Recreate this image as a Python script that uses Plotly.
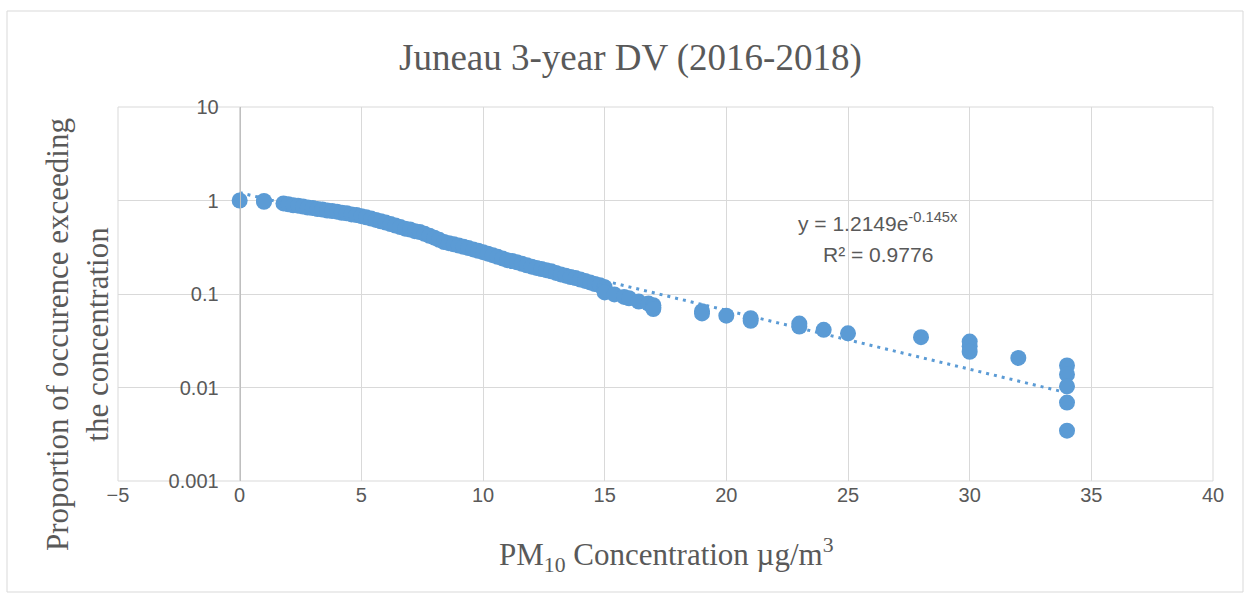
import math
import plotly.graph_objects as go

# ---- data ----
conc = [0, 1, 1,
        1.8, 2.0, 2.2, 2.4, 2.6, 2.8, 3.0, 3.2, 3.4, 3.6, 3.8, 4.0, 4.2, 4.4, 4.6, 4.8,
        5.0, 5.2, 5.4, 5.6, 5.8, 6.0, 6.2, 6.4, 6.6, 6.8, 7.0, 7.2, 7.4, 7.6, 7.8,
        8.0, 8.2, 8.4, 8.6, 8.8, 9.0, 9.2, 9.4, 9.6, 9.8, 10.0, 10.2, 10.4, 10.6, 10.8,
        11.0, 11.2, 11.4, 11.6, 11.8, 12.0, 12.2, 12.4, 12.6, 12.8, 13.0, 13.2, 13.4,
        13.6, 13.8, 14.0, 14.2, 14.4, 14.6, 14.8, 15.0, 15.0, 15.0, 15.4, 15.8, 16.0,
        16.4, 16.8, 17.0, 17.0, 17.0,
        19, 19, 20, 21, 21, 23, 23, 24, 25, 28, 30, 30, 30, 32,
        34, 34, 34, 34, 34]
proportion = [1.0, 0.99, 0.97,
              0.93, 0.91, 0.89, 0.88, 0.86, 0.84, 0.83, 0.81, 0.80, 0.78, 0.77, 0.76, 0.74, 0.73, 0.71, 0.70,
              0.68, 0.66, 0.64, 0.62, 0.60, 0.58, 0.56, 0.54, 0.52, 0.50, 0.49, 0.47, 0.46, 0.44, 0.42,
              0.40, 0.38, 0.36, 0.35, 0.34, 0.33, 0.32, 0.31, 0.30, 0.29, 0.28, 0.27, 0.26, 0.25, 0.24,
              0.23, 0.225, 0.218, 0.21, 0.203, 0.196, 0.19, 0.185, 0.18, 0.175, 0.168, 0.162, 0.157,
              0.152, 0.148, 0.143, 0.138, 0.133, 0.128, 0.124, 0.118, 0.110, 0.104, 0.099, 0.093, 0.090,
              0.083, 0.079, 0.076, 0.072, 0.069,
              0.0655, 0.062, 0.0586, 0.055, 0.0517, 0.0483, 0.0448, 0.0414, 0.038, 0.0345,
              0.031, 0.0276, 0.0241, 0.0207,
              0.0172, 0.0138, 0.0103, 0.0069, 0.00345]

# trendline from the displayed equation y = a * e^(b x)
trend_a = 1.2149
trend_b = -0.145
trend_x = [0, 34]
trend_y = [trend_a * math.exp(trend_b * x) for x in trend_x]

x_ticks = [-5, 0, 5, 10, 15, 20, 25, 30, 35, 40]
y_ticks = [0.001, 0.01, 0.1, 1, 10]
y_tick_text = ["0.001", "0.01", "0.1", "1", "10"]

title_text = "Juneau 3-year DV (2016-2018)"
x_title = "PM<sub>10</sub> Concentration µg/m<sup>3</sup>"
y_title = "Proportion of occurence exceeding<br>the concentration"
eq_text = "y = 1.2149e<sup>-0.145x</sup>"
r2_text = "R² = 0.9776"

# ---- layout geometry (pixels) ----
W, H = 1250, 599
L, R, T, B = 118, 1213, 107, 481
def px(x):
    return (x - L) / (R - L)
def py(y):
    return (B - y) / (B - T)

BLUE = "#5B9BD5"
GRID = "#d9d9d9"
TXT = "#595959"
SANS = "Liberation Sans, Arial, sans-serif"
SERIF = "Liberation Serif, Times New Roman, serif"

fig = go.Figure()
fig.add_trace(go.Scatter(
    x=trend_x, y=trend_y, mode="lines",
    line=dict(color=BLUE, width=3, dash="3px,5px"),
    hoverinfo="skip", showlegend=False))
fig.add_trace(go.Scatter(
    x=conc, y=proportion, mode="markers",
    marker=dict(color=BLUE, size=16, line=dict(width=0)),
    showlegend=False))

y_pos = (0 - (-5)) / (40 - (-5))

fig.update_layout(
    width=W, height=H,
    margin=dict(l=L, r=W - R, t=T, b=H - B, pad=0),
    paper_bgcolor="white", plot_bgcolor="white",
    showlegend=False,
    xaxis=dict(range=[-5, 40], tickvals=x_ticks, showgrid=True, gridcolor=GRID,
               gridwidth=1, zeroline=False, showline=False, ticks="",
               tickfont=dict(family=SANS, size=20, color=TXT)),
    yaxis=dict(type="log", range=[-3, 1], tickvals=y_ticks, ticktext=y_tick_text,
               showgrid=True, gridcolor=GRID, gridwidth=1, zeroline=False,
               anchor="free", position=y_pos, showline=True, linecolor="#bfbfbf",
               linewidth=1, ticks="outside", ticklen=17, tickcolor="rgba(0,0,0,0)",
               tickfont=dict(family=SANS, size=20, color=TXT)),
)

shapes = [
    dict(type="rect", xref="paper", yref="paper", x0=0, x1=1, y0=0, y1=1,
         line=dict(color=GRID, width=1), layer="below"),
    dict(type="line", xref="paper", yref="paper", x0=0, x1=1, y0=0.75, y1=0.75,
         line=dict(color="#bfbfbf", width=1), layer="below"),
    dict(type="rect", xref="paper", yref="paper", x0=px(7), x1=px(1243),
         y0=py(592), y1=py(11), line=dict(color=GRID, width=1), layer="below"),
]
fig.update_layout(shapes=shapes)

annotations = [
    dict(text=title_text, x=px(630), y=py(58), xref="paper", yref="paper",
         showarrow=False, xanchor="center", yanchor="middle",
         font=dict(family=SERIF, size=37, color=TXT)),
    dict(text=x_title, x=px(666), y=py(555), xref="paper", yref="paper",
         showarrow=False, xanchor="center", yanchor="middle",
         font=dict(family=SERIF, size=31, color=TXT)),
    dict(text=y_title, x=px(77), y=py(335), xref="paper", yref="paper",
         showarrow=False, xanchor="center", yanchor="middle", textangle=-90,
         font=dict(family=SERIF, size=31, color=TXT)),
    dict(text=eq_text, x=px(878), y=py(222), xref="paper", yref="paper",
         showarrow=False, xanchor="center", yanchor="middle",
         font=dict(family=SANS, size=21, color=TXT)),
    dict(text=r2_text, x=px(878), y=py(254), xref="paper", yref="paper",
         showarrow=False, xanchor="center", yanchor="middle",
         font=dict(family=SANS, size=21, color=TXT)),
]
fig.update_layout(annotations=annotations)

fig.write_html("out.html", config={"displayModeBar": False},
               post_script="document.body.style.margin='0';document.body.style.overflow='hidden';")
